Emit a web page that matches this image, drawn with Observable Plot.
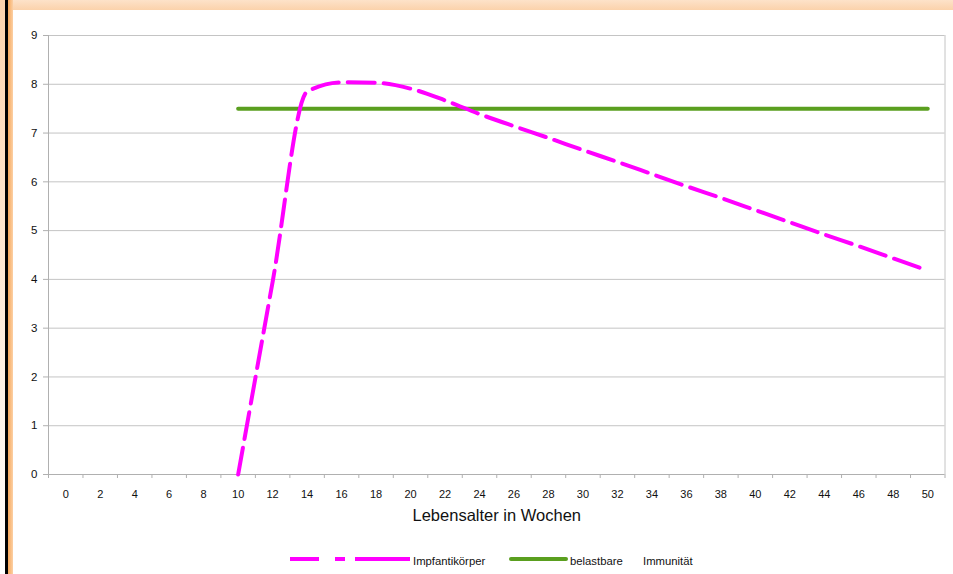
<!DOCTYPE html>
<html><head><meta charset="utf-8">
<script src="https://cdn.jsdelivr.net/npm/d3@7"></script>
<script src="https://cdn.jsdelivr.net/npm/@observablehq/plot@0.6"></script>
<style>
body{margin:0;background:#fff;font-family:"Liberation Sans",Arial,sans-serif;}
#wrap{position:relative;width:953px;height:574px;overflow:hidden;background:#fff;}
#topband{position:absolute;left:0;top:0;width:953px;height:10px;background:linear-gradient(#fde2c9,#fbd2ab);}
#leftlight{position:absolute;left:0;top:0;width:5px;height:574px;background:linear-gradient(#fcd3ad,#fff);}
#blackline{position:absolute;left:5px;top:0;width:3px;height:574px;background:#000;}
#orange{position:absolute;left:8px;top:0;width:5px;height:574px;background:linear-gradient(to right,#f7a95c,#fcd0a5);}
#chart{position:absolute;left:0;top:0;}
.leg{position:absolute;font-size:11.3px;color:#111;line-height:12px;top:555px;white-space:nowrap;}
.legsvg{position:absolute;top:553px;}
</style>
</head><body>
<div id="wrap">
  <div id="chart"></div>
  <div id="topband"></div>
  <div id="leftlight"></div>
  <div id="blackline"></div>
  <div id="orange"></div>
  <svg class="legsvg" style="left:288px" width="126" height="12"><line x1="2" x2="122" y1="6" y2="6" stroke="#ff00ff" stroke-width="4" stroke-dasharray="29,16,10,10,55"/></svg>
  <div class="leg" id="leg1" style="left:413px"></div>
  <svg class="legsvg" style="left:506px" width="66" height="12"><line x1="5" x2="60" y1="6" y2="6" stroke="#5a9f1f" stroke-width="4" stroke-linecap="round"/></svg>
  <div class="leg" id="leg2" style="left:570px"></div>
  <div class="leg" id="leg3" style="left:643px"></div>
</div>
<script>
// Tick labels / categories (weeks)
const weeks = [0,2,4,6,8,10,12,14,16,18,20,22,24,26,28,30,32,34,36,38,40,42,44,46,48,50];
const categoryBounds = [-1,1,3,5,7,9,11,13,15,17,19,21,23,25,27,29,31,33,35,37,39,41,43,45,47,49,51];
const yTicks = [0,1,2,3,4,5,6,7,8,9];

// Series: Impfantikörper
const antibodyWeeks  = [10,12,14,16,18,20,22,24,26,28,30,32,34,36,38,40,42,44,46,48,50];
const antibodyValues = [0,3.95,7.85,8.04,8.03,7.91,7.67,7.39,7.14,6.9,6.65,6.41,6.16,5.91,5.67,5.42,5.17,4.92,4.68,4.43,4.18];

// Series: belastbare Immunität
const immunityWeeks  = [10,12,14,16,18,20,22,24,26,28,30,32,34,36,38,40,42,44,46,48,50];
const immunityValues = [7.5,7.5,7.5,7.5,7.5,7.5,7.5,7.5,7.5,7.5,7.5,7.5,7.5,7.5,7.5,7.5,7.5,7.5,7.5,7.5,7.5];

const seriesNames = ["Impfantikörper", "belastbare", "Immunität"];
const xTitle = "Lebensalter in Wochen";

const antibody = antibodyWeeks.map((w, i) => ({week: w, value: antibodyValues[i]}));
const immunity = immunityWeeks.map((w, i) => ({week: w, value: immunityValues[i]}));

const gridColor = "#c4c4c4";
const axisColor = "#b0b0b0";

const chart = Plot.plot({
  width: 953,
  height: 540,
  marginLeft: 48,
  marginRight: 8.5,
  marginTop: 35,
  marginBottom: 66,
  style: {background: "transparent", fontFamily: "'Liberation Sans', Arial, sans-serif", fontSize: "11px", color: "#111"},
  x: {type: "linear", domain: [-1, 51]},
  y: {domain: [0, 9]},
  marks: [
    Plot.gridY(yTicks.filter(v => v > 0), {stroke: gridColor, strokeOpacity: 1, strokeWidth: 1}),
    Plot.ruleX([categoryBounds[0]], {stroke: axisColor}),
    Plot.ruleX([categoryBounds[categoryBounds.length - 1]], {stroke: gridColor}),
    Plot.ruleY([0], {stroke: axisColor}),
    Plot.axisY({ticks: yTicks, tickSize: 5, tickPadding: 6, label: null, stroke: axisColor, fill: "#111", fontSize: 11.5}),
    Plot.axisX({ticks: categoryBounds, tickSize: 4, tickFormat: () => "", label: null, stroke: axisColor}),
    Plot.axisX({ticks: weeks, tickSize: 0, tickPadding: 16, label: null, fill: "#111", fontSize: 11}),
    Plot.line(immunity, {x: "week", y: "value", stroke: "#5a9f1f", strokeWidth: 4, strokeLinecap: "round"}),
    Plot.line(antibody, {x: "week", y: "value", stroke: "#ff00ff", strokeWidth: 4, strokeDasharray: "27,9", curve: "monotone-x"}),
    Plot.text([xTitle], {frameAnchor: "bottom", dy: 46, fontSize: 16.5, fill: "#111"})
  ]
});
document.getElementById("chart").appendChild(chart);
document.getElementById("leg1").textContent = seriesNames[0];
document.getElementById("leg2").textContent = seriesNames[1];
document.getElementById("leg3").textContent = seriesNames[2];
</script>
</body></html>
